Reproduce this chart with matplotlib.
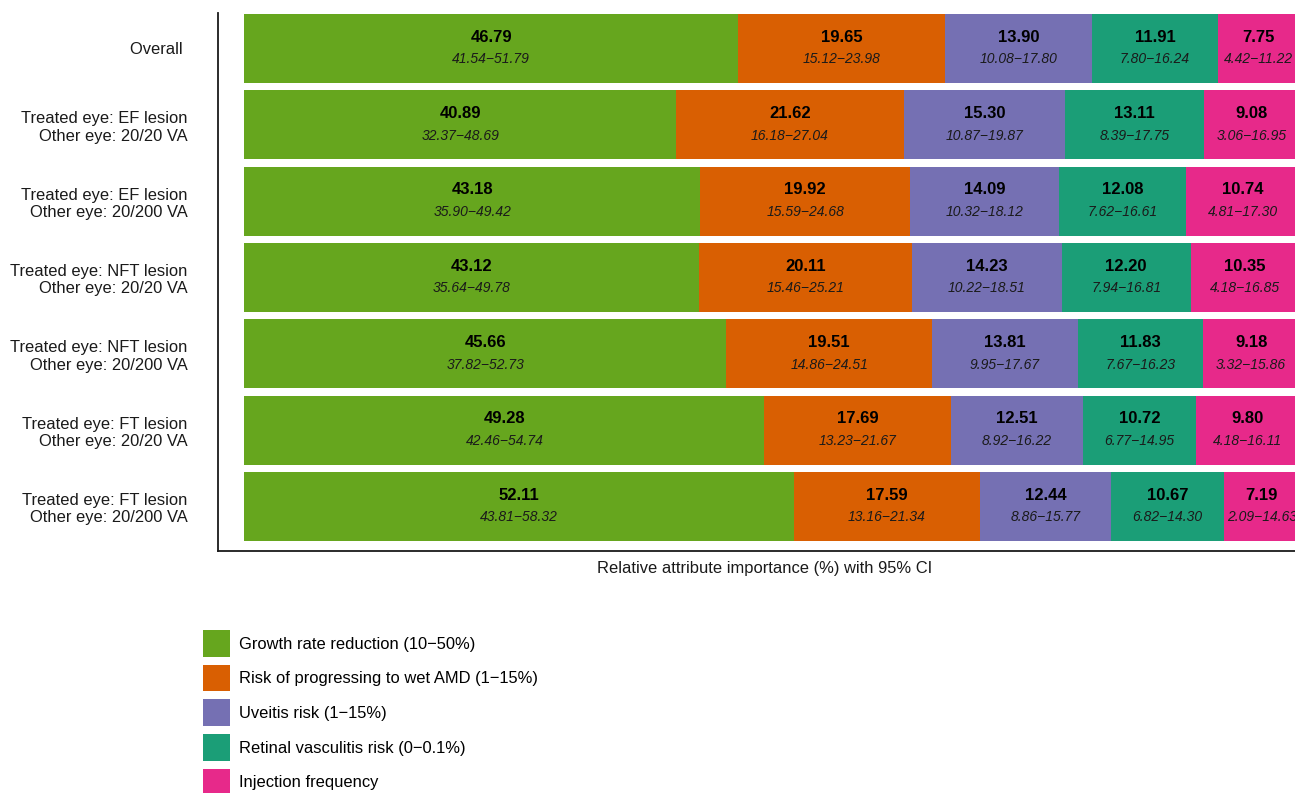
import matplotlib
matplotlib.use("Agg")
from matplotlib import pyplot as plt
from matplotlib.patches import Patch

plt.rcParams['font.family'] = ['Liberation Sans', 'DejaVu Sans']

profiles = [
    "Overall ",
    "Treated eye: EF lesion\nOther eye: 20/20 VA",
    "Treated eye: EF lesion\nOther eye: 20/200 VA",
    "Treated eye: NFT lesion\nOther eye: 20/20 VA",
    "Treated eye: NFT lesion\nOther eye: 20/200 VA",
    "Treated eye: FT lesion\nOther eye: 20/20 VA",
    "Treated eye: FT lesion\nOther eye: 20/200 VA",
]
attributes = [
    "Growth rate reduction (10\u221250%)",
    "Risk of progressing to wet AMD (1\u221215%)",
    "Uveitis risk (1\u221215%)",
    "Retinal vasculitis risk (0\u22120.1%)",
    "Injection frequency",
]
colors = ["#66A61E", "#D95F02", "#7570B3", "#1B9E77", "#E7298A"]

# importance per attribute, one value per profile (same order as profiles)
growth = [46.79, 40.89, 43.18, 43.12, 45.66, 49.28, 52.11]
growth_lo = [41.54, 32.37, 35.90, 35.64, 37.82, 42.46, 43.81]
growth_hi = [51.79, 48.69, 49.42, 49.78, 52.73, 54.74, 58.32]

wet_amd = [19.65, 21.62, 19.92, 20.11, 19.51, 17.69, 17.59]
wet_amd_lo = [15.12, 16.18, 15.59, 15.46, 14.86, 13.23, 13.16]
wet_amd_hi = [23.98, 27.04, 24.68, 25.21, 24.51, 21.67, 21.34]

uveitis = [13.90, 15.30, 14.09, 14.23, 13.81, 12.51, 12.44]
uveitis_lo = [10.08, 10.87, 10.32, 10.22, 9.95, 8.92, 8.86]
uveitis_hi = [17.80, 19.87, 18.12, 18.51, 17.67, 16.22, 15.77]

vasculitis = [11.91, 13.11, 12.08, 12.20, 11.83, 10.72, 10.67]
vasculitis_lo = [7.80, 8.39, 7.62, 7.94, 7.67, 6.77, 6.82]
vasculitis_hi = [16.24, 17.75, 16.61, 16.81, 16.23, 14.95, 14.30]

injection = [7.75, 9.08, 10.74, 10.35, 9.18, 9.80, 7.19]
injection_lo = [4.42, 3.06, 4.81, 4.18, 3.32, 4.18, 2.09]
injection_hi = [11.22, 16.95, 17.30, 16.85, 15.86, 16.11, 14.63]

values = [growth, wet_amd, uveitis, vasculitis, injection]
lows = [growth_lo, wet_amd_lo, uveitis_lo, vasculitis_lo, injection_lo]
highs = [growth_hi, wet_amd_hi, uveitis_hi, vasculitis_hi, injection_hi]

W, H = 1295, 793
fig = plt.figure(figsize=(W / 100, H / 100), dpi=100)
# panel runs a little past the right edge (cropped like the original)
left, right, top, bottom = 218, 1326, 13, 551
ax = fig.add_axes([left / W, 1 - bottom / H, (right - left) / W, (bottom - top) / H])

ypos = list(range(len(profiles)))
starts = [0.0] * len(profiles)
for vals, lo, hi, col in zip(values, lows, highs, colors):
    ax.barh(ypos, vals, left=starts, height=0.9, color=col, linewidth=0)
    for i, (v, s) in enumerate(zip(vals, starts)):
        cx = s + v / 2
        ax.text(cx, i - 0.15, f"{v:.2f}", ha='center', va='center',
                fontsize=12, fontweight='bold', color='black')
        ax.text(cx, i + 0.14, f"{lo[i]:.2f}\u2212{hi[i]:.2f}", ha='center', va='center',
                fontsize=10, fontstyle='italic', color='#1a1a1a')
    starts = [s + v for s, v in zip(starts, vals)]

ax.set_xlim(-2.5, 102.5)
ax.set_ylim(6.583, -0.465)
ax.set_yticks(ypos)
ax.set_yticklabels(profiles, fontsize=11.9, color='#1a1a1a')
ax.tick_params(axis='y', length=0, pad=22)
ax.set_xticks([])
for side in ['top', 'right']:
    ax.spines[side].set_visible(False)
for side in ['left', 'bottom']:
    ax.spines[side].set_linewidth(1.3)
    ax.spines[side].set_color('#1a1a1a')
ax.set_xlabel("Relative attribute importance (%) with 95% CI", fontsize=11.9,
              color='#1a1a1a')
ax.xaxis.set_label_coords((765 - left) / (right - left), -0.019, transform=ax.transAxes)
ax.xaxis.label.set_va('top')

handles = [Patch(facecolor=c, edgecolor='none') for c in colors]
fig.legend(handles, attributes, loc='upper left',
           bbox_to_anchor=(203 / W, 1 - 630 / H), frameon=False,
           fontsize=11.9, handlelength=1.63, handleheight=2.11,
           handletextpad=0.55, labelspacing=0.48, borderpad=0, borderaxespad=0)

fig.savefig("out.png", dpi=100)
